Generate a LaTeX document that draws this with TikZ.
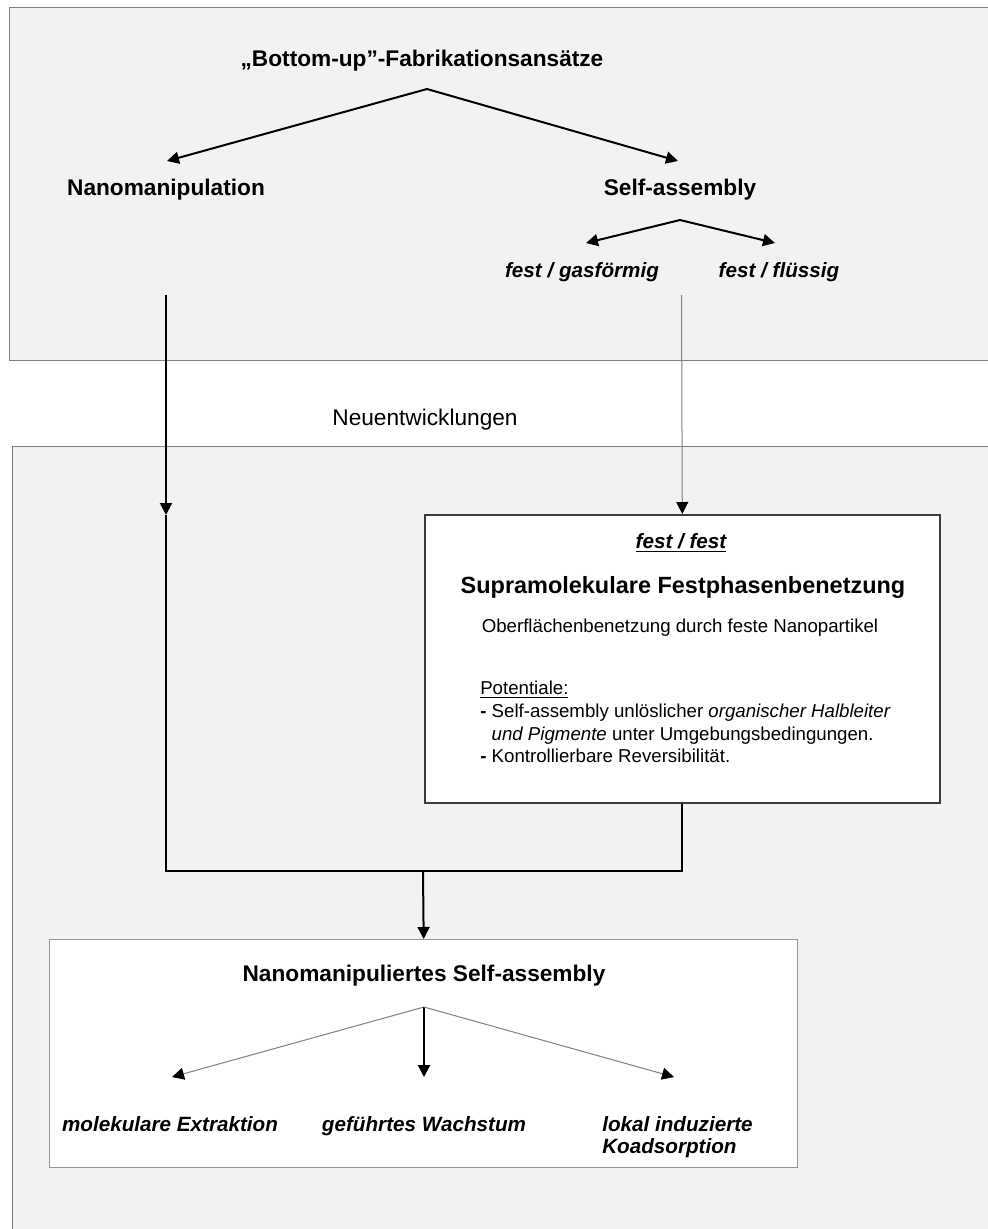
\documentclass[tikz,border=0pt]{standalone}
\usepackage{fontspec}
\setmainfont{Liberation Sans}
\usepackage{tikz}
\usetikzlibrary{arrows.meta}

\definecolor{panelgray}{RGB}{242,242,244}
\definecolor{framegray}{RGB}{128,128,128}
\definecolor{boxframe}{RGB}{60,60,60}
\definecolor{lightframe}{RGB}{150,150,150}

\tikzset{
	headtext/.style={font=\fontsize{17}{20}\selectfont\bfseries, text height=0.8em, text depth=0.1em},
	subtext/.style={font=\fontsize{15.5}{17}\selectfont\bfseries\itshape, text height=0.8em, text depth=0.1em},
	twoline/.style={font=\fontsize{15.5}{17}\selectfont\bfseries\itshape, align=left, inner sep=0pt},
	bodytext/.style={font=\fontsize{14}{17}\selectfont},
	arr/.style={-{Triangle[length=9pt,width=9pt]}, line width=1.5pt},
	thinarr/.style={-{Triangle[length=9pt,width=9pt,color=black]}, line width=0.75pt, draw=framegray},
	thickline/.style={line width=1.5pt}
}

\begin{document}
\begin{tikzpicture}[x=0.75pt, y=-0.75pt]
			\useasboundingbox (0,0) rectangle (988,1229);
			\filldraw [fill=panelgray, draw=framegray, line width=0.75pt] (9,7) rectangle (995,360);
			\filldraw [fill=panelgray, draw=framegray, line width=0.75pt] (12,446) rectangle (995,1240);

			\node at (422,62) [headtext] (title) {„Bottom-up”-Fabrikationsansätze};
			\coordinate (titlefork) at (427,89);
			\node at (166,191) [headtext] (nanoman) {Nanomanipulation};
			\node at (680,191) [headtext] (selfass) {Self-assembly};
			\coordinate (nanotip) at (167,161);
			\coordinate (selftip) at (678,161);
			\draw [arr] (titlefork) -- (nanotip);
			\draw [arr] (titlefork) -- (selftip);

			\coordinate (selffork) at (680,220);
			\coordinate (gastip) at (586,243);
			\coordinate (fluidtip) at (775,243);
			\node at (582,273) [subtext] (gas) {fest / gasförmig};
			\node at (779,273) [subtext] (fluid) {fest / flüssig};
			\draw [arr] (selffork) -- (gastip);
			\draw [arr] (selffork) -- (fluidtip);

			\node at (425,420) [font=\fontsize{17}{20}\selectfont] (neu) {Neuentwicklungen};

			\node at (424,514) [anchor=north west, draw=boxframe, fill=white, line width=1.2pt, minimum width=386.25pt, minimum height=216pt] (festbox) {};
			\node at (681,544) [subtext] (festfest) {\underline{fest / fest}};
			\node at (683,589) [headtext, font=\fontsize{17.6}{20}\selectfont\bfseries] (supra) {Supramolekulare Festphasenbenetzung};
			\node at (680,628) [bodytext] (oberfl) {Oberflächenbenetzung durch feste Nanopartikel};
			\node at (480,681) [bodytext, anchor=north west, align=left, inner sep=0pt] (potent) {\underline{Potentiale:}\\
				\textbf{-} Self-assembly unlöslicher \textit{organischer Halbleiter}\\
				\phantom{\textbf{-} }\textit{und Pigmente} unter Umgebungsbedingungen.\\
				\textbf{-} Kontrollierbare Reversibilität.};

			\coordinate (nanostart) at (166,295);
			\coordinate (nanomid) at (166,515);
			\coordinate (joinleft) at (166,871);
			\coordinate (joinmid) at (423,871);
			\coordinate (gasstart) at (681.5,295);
			\draw [arr] (nanostart) -- (nanomid);
			\draw [thickline] (nanomid) -- (joinleft) -| (festbox.south);
			\draw [thinarr] (gasstart) -- (festbox.north);

			\node at (49,939) [anchor=north west, draw=lightframe, fill=white, line width=1pt, minimum width=561pt, minimum height=171pt] (nsabox) {};
			\draw [arr] (joinmid) -- (nsabox.north);
			\node at (424,977) [headtext] (nsa) {Nanomanipuliertes Self-assembly};
			\coordinate (nsafork) at (424,1007);
			\coordinate (extracttip) at (172,1077);
			\coordinate (growthtip) at (424,1077);
			\coordinate (coadstip) at (674,1077);
			\draw [thinarr] (nsafork) -- (extracttip);
			\draw [arr] (nsafork) -- (growthtip);
			\draw [thinarr] (nsafork) -- (coadstip);
			\node at (170,1127) [subtext] (extract) {molekulare Extraktion};
			\node at (424,1127) [subtext] (growth) {geführtes Wachstum};
			\node at (602,1137) [twoline, anchor=west] (coads) {lokal induzierte\\Koadsorption};
		\end{tikzpicture}
\end{document}
